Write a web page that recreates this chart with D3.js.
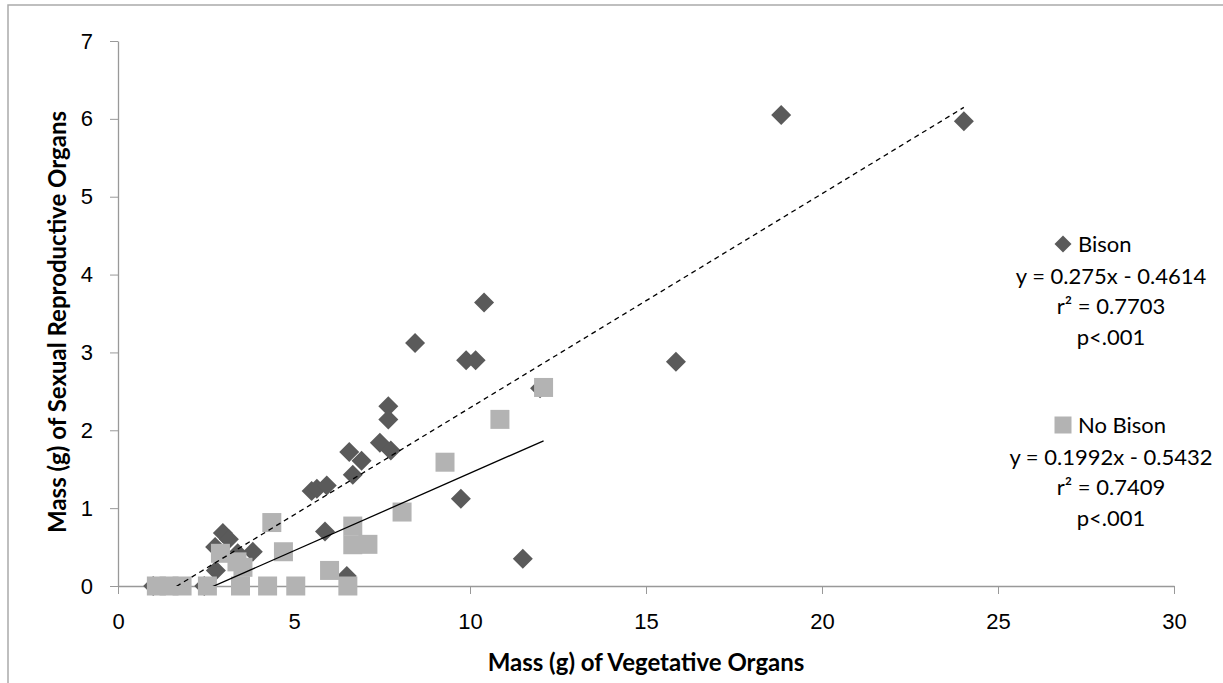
<!DOCTYPE html>
<html>
<head>
<meta charset="utf-8">
<script src="https://cdn.jsdelivr.net/npm/d3@7"></script>
<style>
  body { margin: 0; background: #fff; }
  svg { font-family: Lato, 'Open Sans', sans-serif; }
  .axis path, .axis line { stroke: #999; }
  .axis text { font-size: 22px; fill: #000; }
</style>
</head>
<body>
<svg id="chart" width="1223" height="683"></svg>
<script>
// Bison (dark diamonds)
var bisonX = [1.0, 2.45, 2.78, 2.76, 2.98, 3.15, 3.4, 3.83, 5.5, 5.65, 5.93, 5.88, 6.5, 6.57, 6.92, 6.67,
  7.44, 7.75, 7.68, 7.68, 8.44, 9.74, 9.89, 10.16, 10.4, 11.5, 11.99, 15.85, 18.84, 24.03]
var bisonY = [0, 0, 0.2, 0.5, 0.68, 0.6, 0.42, 0.44, 1.22, 1.25, 1.29, 0.70, 0.13, 1.72, 1.61, 1.43,
  1.84, 1.74, 2.31, 2.14, 3.12, 1.12, 2.9, 2.9, 3.64, 0.35, 2.54, 2.88, 6.05, 5.97]

// No Bison (light squares)
var noBisonX = [1.09, 1.45, 1.82, 2.54, 3.48, 4.25, 5.05, 6.53, 2.91, 3.38, 3.55, 4.37, 4.70, 6.01,
  6.67, 6.67, 7.1, 8.07, 9.29, 10.85, 12.09]
var noBisonY = [0, 0, 0, 0, 0, 0, 0, 0, 0.42, 0.31, 0.24, 0.815, 0.44, 0.2,
  0.77, 0.53, 0.535, 0.95, 1.59, 2.14, 2.55]

var xTicks = [0, 5, 10, 15, 20, 25, 30]
var yTicks = [0, 1, 2, 3, 4, 5, 6, 7]

// trendline coefficients [slope, intercept]
var bisonFit = [0.275, -0.4614]
var noBisonFit = [0.1992, -0.5432]

var bisonLegend = ['y = 0.275x - 0.4614', 'r² = 0.7703', 'p<.001']
var noBisonLegend = ['y = 0.1992x - 0.5432', 'r² = 0.7409', 'p<.001']

var svg = d3.select('#chart')

// outer chart border (cropped at right / bottom)
svg.append('path')
  .attr('d', 'M8,700 L8,5 L1240,5')
  .attr('fill', 'none')
  .attr('stroke', '#aaa')
  .attr('stroke-width', 1.5)

var x = d3.scaleLinear().domain([0, 30]).range([118, 1174])
var y = d3.scaleLinear().domain([0, 7]).range([586, 41])

svg.append('defs').append('clipPath').attr('id', 'plotClip')
  .append('rect')
  .attr('x', x(0)).attr('y', y(7))
  .attr('width', x(30) - x(0)).attr('height', y(0) - y(7))

svg.append('g')
  .attr('class', 'axis')
  .attr('transform', 'translate(' + x(0) + ',0)')
  .call(d3.axisLeft(y).tickValues(yTicks).tickFormat(d3.format('d'))
    .tickSize(8).tickSizeOuter(0).tickPadding(17))

svg.append('g')
  .attr('class', 'axis')
  .attr('transform', 'translate(0,' + y(0) + ')')
  .call(d3.axisBottom(x).tickValues(xTicks).tickFormat(d3.format('d'))
    .tickSize(8).tickSizeOuter(0).tickPadding(19))

svg.selectAll('.axis .domain').attr('stroke-width', 1.3)

// axis titles
svg.append('text')
  .attr('x', 646).attr('y', 671)
  .attr('text-anchor', 'middle')
  .style('font-weight', 'bold').style('font-size', '24px')
  .text('Mass (g) of Vegetative Organs')

svg.append('text')
  .attr('transform', 'translate(66,322) rotate(-90)')
  .attr('text-anchor', 'middle')
  .style('font-weight', 'bold').style('font-size', '24px')
  .text('Mass (g) of Sexual Reproductive Organs')

var diamond = d3.symbol().type(d3.symbolSquare).size(200)
var square = d3.symbol().type(d3.symbolSquare).size(361)

var bison = bisonX.map(function (d, i) { return { x: d, y: bisonY[i] } })
var noBison = noBisonX.map(function (d, i) { return { x: d, y: noBisonY[i] } })

svg.append('g').selectAll('path')
  .data(bison)
  .enter().append('path')
  .attr('d', diamond)
  .attr('fill', '#5a5a5a')
  .attr('transform', function (d) {
    return 'translate(' + x(d.x) + ',' + y(d.y) + ') rotate(45)'
  })

svg.append('g').selectAll('path')
  .data(noBison)
  .enter().append('path')
  .attr('d', square)
  .attr('fill', '#b3b3b3')
  .attr('transform', function (d) {
    return 'translate(' + x(d.x) + ',' + y(d.y) + ')'
  })

// trendlines, from min to max x of each series, clipped to plot area
function fitLine(xs, fit) {
  var lo = d3.min(xs), hi = d3.max(xs)
  return [[lo, fit[0] * lo + fit[1]], [hi, fit[0] * hi + fit[1]]]
}
var line = d3.line().x(function (d) { return x(d[0]) }).y(function (d) { return y(d[1]) })

var trend = svg.append('g').attr('clip-path', 'url(#plotClip)')
trend.append('path')
  .attr('d', line(fitLine(bisonX, bisonFit)))
  .attr('fill', 'none').attr('stroke', '#000').attr('stroke-width', 1.3)
  .attr('stroke-dasharray', '5,4')
trend.append('path')
  .attr('d', line(fitLine(noBisonX, noBisonFit)))
  .attr('fill', 'none').attr('stroke', '#000').attr('stroke-width', 1.3)

// legend
function legendBlock(top, name, lines, isSquare) {
  var g = svg.append('g')
  var mark = g.append('path')
    .attr('fill', isSquare ? '#b3b3b3' : '#5a5a5a')
  if (isSquare) {
    mark.attr('d', d3.symbol().type(d3.symbolSquare).size(289))
      .attr('transform', 'translate(1063,' + top + ')')
  } else {
    mark.attr('d', d3.symbol().type(d3.symbolSquare).size(145))
      .attr('transform', 'translate(1063,' + top + ') rotate(45)')
  }
  g.append('text')
    .attr('x', 1078).attr('y', top + 8)
    .style('font-size', '22px')
    .text(name)
  g.selectAll('.ln')
    .data(lines)
    .enter().append('text')
    .attr('x', 1111)
    .attr('y', function (d, i) { return top + 39.5 + i * 30.7 })
    .attr('text-anchor', 'middle')
    .style('font-size', '22px')
    .text(function (d) { return d })
}
legendBlock(244, 'Bison', bisonLegend, false)
legendBlock(425, 'No Bison', noBisonLegend, true)
</script>
</body>
</html>
